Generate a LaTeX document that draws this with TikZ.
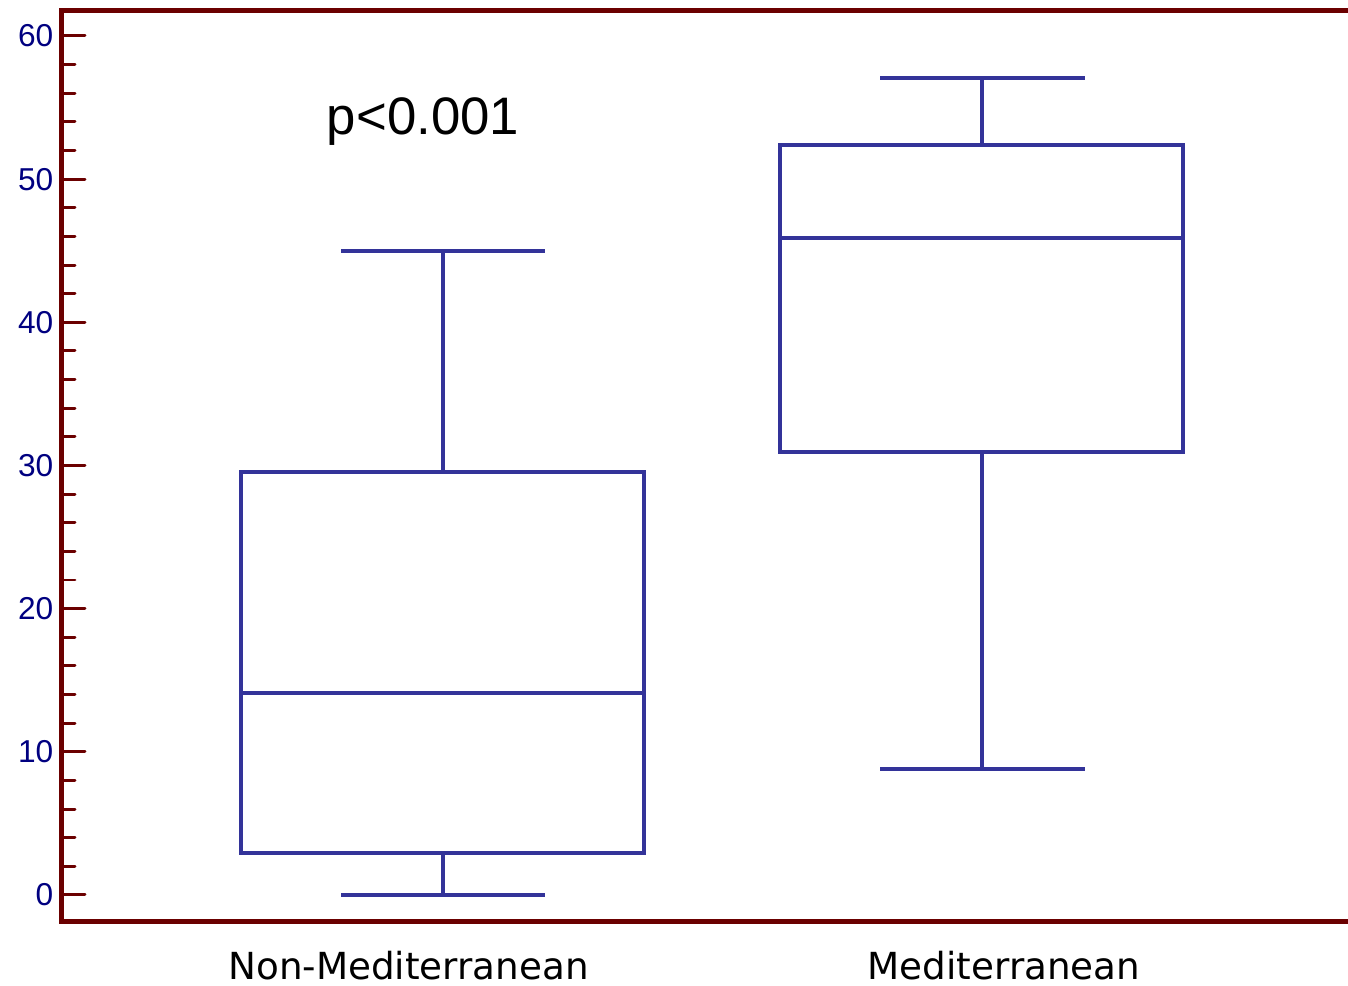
\documentclass[tikz,border=0pt]{standalone}
\usepackage{fontspec}
\setmainfont{Liberation Sans}
\newfontfamily\labelfont{DejaVu Sans}
\definecolor{axisred}{RGB}{107,0,0}
\definecolor{boxblue}{RGB}{51,51,153}
\definecolor{ticknavy}{RGB}{0,0,128}
\tikzset{
  frame/.style={axisred, line width=1.42pt},
  ticks/.style={axisred, line width=0.85pt, line cap=round},
  boxline/.style={boxblue, line width=1.3pt},
  ticklabel/.style={ticknavy, anchor=east, inner sep=0pt, font=\fontsize{9}{10}\selectfont},
  catlabel/.style={anchor=base, inner sep=0pt, font=\labelfont\fontsize{10.6}{12}\selectfont},
}
\begin{document}
\begin{tikzpicture}[x=0.01cm, y=0.01cm]
    \useasboundingbox (0,0) rectangle (1348,986);
    % axes
    \draw[frame] (1360,975.5) -- (61.5,975.5) -- (61.5,64.5) -- (1360,64.5);
    \foreach \v in {0,2,...,60}
      \draw[ticks] (62,{91+14.317*\v}) -- ++(13,0);
    \foreach \v in {0,10,...,60} {
      \draw[ticks] (62,{91+14.317*\v}) -- ++(23,0);
      \node[ticklabel] (y\v) at (54,{91+14.317*\v}) {\v};
    }
    % Non-Mediterranean
    \draw[boxline] (241,133) rectangle (644,514);
    \draw[boxline] (241,293) -- (644,293);
    \draw[boxline] (443,514) -- (443,735) (341,735) -- (545,735);
    \draw[boxline] (443,133) -- (443,91) (341,91) -- (545,91);
    % Mediterranean
    \draw[boxline] (780,534) rectangle (1183,841);
    \draw[boxline] (780,748) -- (1183,748);
    \draw[boxline] (982,841) -- (982,908) (880,908) -- (1085,908);
    \draw[boxline] (982,534) -- (982,217) (880,217) -- (1085,217);
    % labels
    \node[anchor=base, inner sep=0pt, font=\fontsize{15}{17}\selectfont] (pval) at (423,851) {p<0.001};
    \node[catlabel] (nonmed) at (408.5,6) {Non-Mediterranean};
    \node[catlabel] (med) at (1004,6) {Mediterranean};
\end{tikzpicture}
\end{document}
